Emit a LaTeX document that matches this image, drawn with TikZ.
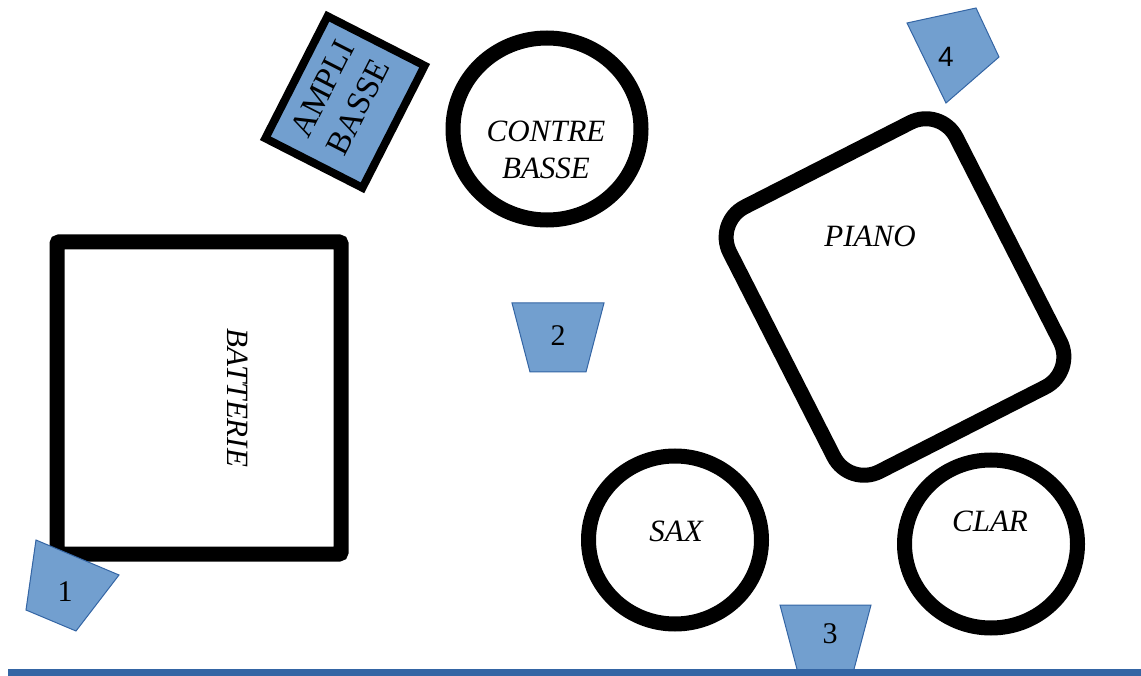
\documentclass[tikz,border=0pt]{standalone}
\usepackage{fontspec}
\setmainfont{Liberation Serif}
\newfontfamily\chiffresans{Liberation Sans}
\usepackage{xcolor}
\usetikzlibrary{shapes.geometric}
\definecolor{retourbleu}{HTML}{729FCF}
\definecolor{bordbleu}{HTML}{3465A4}

\begin{document}
\begin{tikzpicture}[x=1pt, y=1pt,
  instrument/.style={draw=black, line width=15pt},
  rond/.style={instrument, ellipse, inner sep=0pt},
  nom/.style={font=\fontsize{31}{37}\selectfont\itshape, align=center},
  retour/.style={fill=retourbleu, draw=bordbleu, line width=1pt},
  numero/.style={font=\fontsize{30}{36}\selectfont}]

\useasboundingbox (0,0) rectangle (1141,-676);

% Batterie
\node (batterie) [instrument, rounded corners=2pt, minimum width=284pt, minimum height=312pt] at (199,-398) {};
\node (batterietxt) [nom, rotate=-90] at (238,-398) {BATTERIE};

% Ampli basse
\node (ampli) [draw=black, fill=retourbleu, line width=8pt, minimum width=137pt, minimum height=109pt,
  rotate=63, inner sep=0pt] at (345,-102) {};
\node (amplitxt) [rotate=63, align=center, font=\fontsize{33}{40}\selectfont] at (340,-98) {AMPLI\\BASSE};

% Contrebasse
\node (contrebasse) [rond, minimum width=188pt, minimum height=182pt] at (547,-129) {};
\node (contrebassetxt) [nom] at (546,-150) {CONTRE\\BASSE};

% Piano
\node (piano) [instrument, rounded corners=34pt, minimum width=254pt, minimum height=297pt, rotate=27] at (895,-297) {};
\node (pianotxt) [nom] at (870,-236) {PIANO};

% Sax et clarinette
\node (sax) [rond, minimum width=173pt, minimum height=168pt] at (675,-540) {};
\node (saxtxt) [nom] at (676,-531) {SAX};
\node (clar) [rond, minimum width=173pt, minimum height=168pt] at (991,-544) {};
\node (clartxt) [nom] at (990,-521) {CLAR};

% Retours
\filldraw[retour] (36,-540) -- (119,-575) -- (76,-631) -- (26,-610) -- cycle;
\node (retour1) [numero] at (65,-592) {1};
\filldraw[retour] (512,-303) -- (604,-303) -- (586,-372) -- (530,-372) -- cycle;
\node (retour2) [numero] at (558,-336) {2};
\filldraw[retour] (780,-605) -- (871,-605) -- (853,-673) -- (798,-673) -- cycle;
\node (retour3) [numero] at (830,-634) {3};
\filldraw[retour] (907,-23) -- (976,-8) -- (999,-57) -- (946,-103) -- cycle;
\node (retour4) [font=\fontsize{28}{34}\selectfont\chiffresans] at (946,-57) {4};

% Bord de scène
\draw[bordbleu, line width=7pt] (8,-672.5) -- (1141,-672.5);

\end{tikzpicture}
\end{document}
